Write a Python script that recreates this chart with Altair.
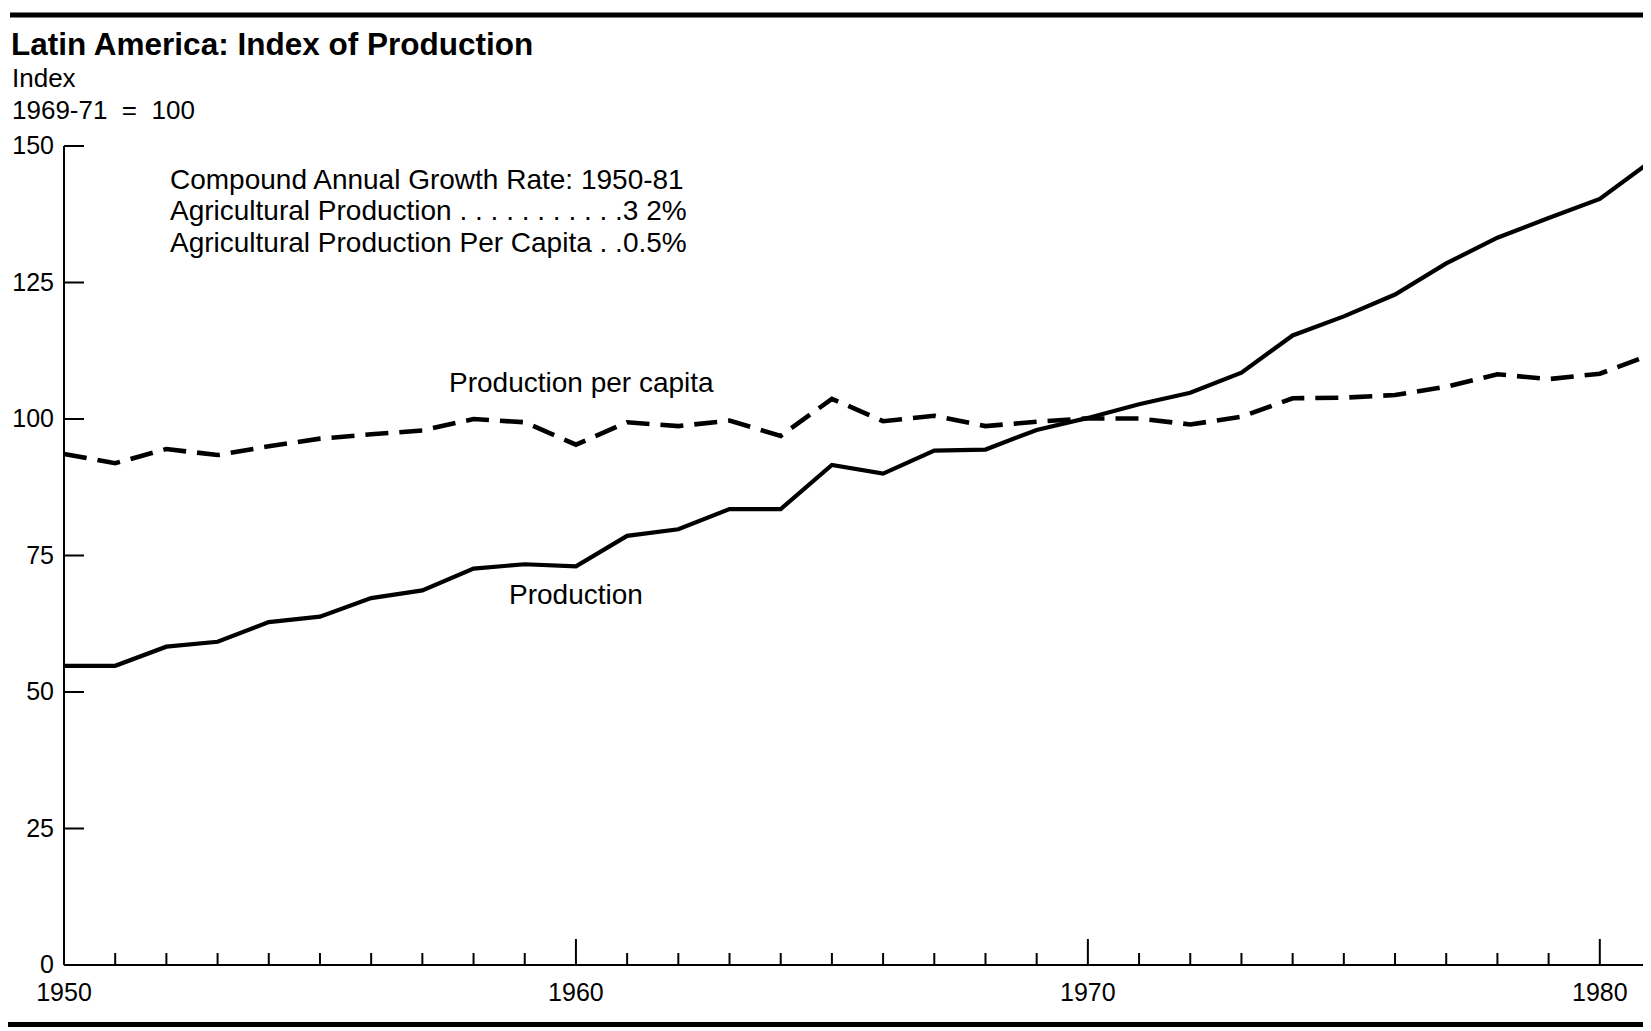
import altair as alt
import pandas as pd

# ---- data ----
years = list(range(1950, 1982))
production = [54.8, 54.8, 58.3, 59.2, 62.8, 63.8, 67.2, 68.6, 72.6, 73.4,
              73.0, 78.6, 79.8, 83.5, 83.5, 91.6, 90.0, 94.2, 94.4, 98.0,
              100.2, 102.7, 104.8, 108.5, 115.3, 118.8, 122.8, 128.5, 133.2, 136.8,
              140.3, 147.2]
per_capita = [93.6, 91.9, 94.5, 93.4, 95.0, 96.4, 97.2, 97.9, 100.0, 99.4,
              95.3, 99.4, 98.7, 99.7, 96.9, 103.7, 99.6, 100.6, 98.7, 99.5,
              100.1, 100.1, 99.0, 100.4, 103.8, 103.9, 104.4, 105.9, 108.2, 107.3,
              108.3, 111.8]
y_ticks = [0, 25, 50, 75, 100, 125, 150]
x_label_years = [1950, 1960, 1970, 1980]
decade_tick_years = [1960, 1970, 1980]
minor_tick_years = [y for y in years if y % 10 != 0]
x_range = [1950, 1981]
y_range = [0, 150]

title_text = "Latin America: Index of Production"
unit_lines = ["Index", "1969-71\u00a0\u00a0=\u00a0\u00a0100"]
note_lines = ["Compound Annual Growth Rate: 1950-81",
              "Agricultural Production . . . . . . . . . . .3 2%",
              "Agricultural Production Per Capita . .0.5%"]
series_labels = ["Production per capita", "Production"]

# ---- layout ----
W, H = 1587, 819
TOP = 138
FONT = "Liberation Sans"

df = pd.DataFrame({"year": years, "prod": production, "pc": per_capita})
x_scale = alt.Scale(domain=x_range, nice=False, zero=False)
y_scale = alt.Scale(domain=y_range, nice=False)


def X(field):
    return alt.X(field, scale=x_scale, axis=None)


def Y(field):
    return alt.Y(field, scale=y_scale, axis=None)


prod_line = alt.Chart(df).mark_line(color="black", strokeWidth=4.2).encode(
    x=X("year:Q"), y=Y("prod:Q"))
pc_line = alt.Chart(df).mark_line(color="black", strokeWidth=4.6,
                                  strokeDash=[23, 11]).encode(
    x=X("year:Q"), y=Y("pc:Q"))

# axis lines
y_domain = alt.Chart(pd.DataFrame({"lo": [y_range[0]], "hi": [y_range[1]]})).mark_rule(
    color="black", strokeWidth=2).encode(
    y=Y("lo:Q"), y2="hi:Q", x=alt.value(0))
x_domain = alt.Chart(pd.DataFrame({"lo": [x_range[0]], "hi": [x_range[1]]})).mark_rule(
    color="black", strokeWidth=2).encode(
    x=X("lo:Q"), x2="hi:Q", y=alt.value(H))

# ticks (pointing inward)
y_tick_marks = alt.Chart(pd.DataFrame({"v": y_ticks})).mark_rule(
    color="black", strokeWidth=2).encode(
    y=Y("v:Q"), x=alt.value(0), x2=alt.value(20))
minor_ticks = alt.Chart(pd.DataFrame({"yr": minor_tick_years})).mark_rule(
    color="black", strokeWidth=2).encode(
    x=X("yr:Q"), y=alt.value(H), y2=alt.value(H - 12))
decade_ticks = alt.Chart(pd.DataFrame({"yr": decade_tick_years})).mark_rule(
    color="black", strokeWidth=2).encode(
    x=X("yr:Q"), y=alt.value(H), y2=alt.value(H - 26))

# tick labels
y_labels = alt.Chart(pd.DataFrame({"v": y_ticks})).mark_text(
    font=FONT, fontSize=25, align="right", baseline="middle", color="black").encode(
    y=Y("v:Q"), x=alt.value(-10), text="v:Q")
x_labels = alt.Chart(pd.DataFrame({"yr": x_label_years})).mark_text(
    font=FONT, fontSize=25, align="center", baseline="middle", color="black").encode(
    x=X("yr:Q"), y=alt.value(H + 28), text=alt.Text("yr:Q", format="d"))

one = pd.DataFrame({"a": [0]})
top_rule = alt.Chart(one).mark_rule(color="black", strokeWidth=5).encode(
    x=alt.value(-54), x2=alt.value(W), y=alt.value(-131))
bottom_rule = alt.Chart(one).mark_rule(color="black", strokeWidth=5).encode(
    x=alt.value(-60), x2=alt.value(W), y=alt.value(878.5))

title = alt.Chart(one).mark_text(
    font=FONT, fontSize=31.5, fontWeight="bold", align="left",
    baseline="alphabetic", color="black").encode(
    x=alt.value(-53), y=alt.value(-91), text=alt.value(title_text))

units = alt.Chart(one).mark_text(
    font=FONT, fontSize=26, align="left", baseline="alphabetic",
    color="black", lineBreak="\n", lineHeight=31.5).encode(
    x=alt.value(-52), y=alt.value(-59), text=alt.value("\n".join(unit_lines)))

notes = alt.Chart(one).mark_text(
    font=FONT, fontSize=28, align="left", baseline="alphabetic",
    color="black", lineBreak="\n", lineHeight=31.6).encode(
    x=alt.value(106), y=alt.value(42.5), text=alt.value("\n".join(note_lines)))

lab_pc = alt.Chart(one).mark_text(
    font=FONT, fontSize=28, align="left", baseline="alphabetic",
    color="black").encode(
    x=alt.value(385), y=alt.value(246), text=alt.value(series_labels[0]))
lab_prod = alt.Chart(one).mark_text(
    font=FONT, fontSize=28, align="left", baseline="alphabetic",
    color="black").encode(
    x=alt.value(445), y=alt.value(458), text=alt.value(series_labels[1]))

chart = alt.layer(
    prod_line, pc_line, y_domain, x_domain, y_tick_marks, minor_ticks,
    decade_ticks, y_labels, x_labels, top_rule, bottom_rule, title, units,
    notes, lab_pc, lab_prod,
).properties(
    width=W, height=H,
    autosize=alt.AutoSizeParams(type="none"),
    padding={"left": 56, "top": TOP, "right": -8, "bottom": 1023 - TOP - H},
    background="white",
).configure_view(stroke=None)

chart.save("out.html", embed_options={"renderer": "svg", "actions": False})
